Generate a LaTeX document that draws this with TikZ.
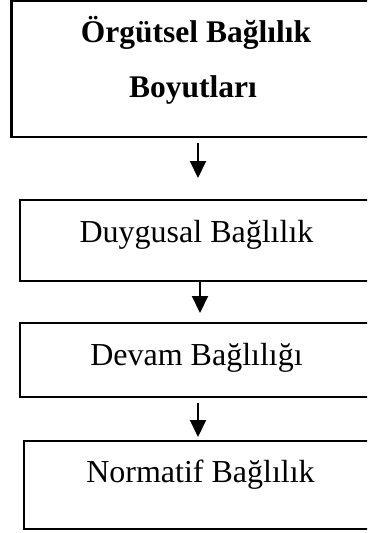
\documentclass[tikz,border=0pt]{standalone}
\usepackage{fontspec}
\setmainfont{Liberation Serif}
\usetikzlibrary{arrows.meta}
\begin{document}
\begin{tikzpicture}[x=1pt,y=-1pt,
  box/.style={draw=black, rectangle, line width=2pt, inner sep=0pt, outer sep=0pt},
  title/.style={anchor=base, inner sep=0pt, font=\fontsize{31.5}{36}\selectfont\bfseries},
  label/.style={anchor=base, inner sep=0pt, font=\fontsize{32}{36}\selectfont},
  flow/.style={line width=2pt, -{Triangle[width=16pt,length=17pt]}}]
  \useasboundingbox (0,0) rectangle (367,533);
  \clip (0,0) rectangle (367,533);

  % boxes
  \node[box, line width=2.5pt, minimum width=369pt, minimum height=136pt] (b1) at (196,69) {};
  \node[box, minimum width=353pt, minimum height=81pt] (b2) at (196.5,240.5) {};
  \node[box, minimum width=353pt, minimum height=74pt] (b3) at (196.5,360) {};
  \node[box, minimum width=352pt, minimum height=88pt] (b4) at (200,485) {};

  % texts
  \node[title] (t1a) at (196,42) {Örgütsel Bağlılık};
  \node[title] (t1b) at (193,97) {Boyutları};
  \node[label] (t2) at (196.5,242) {Duygusal Bağlılık};
  \node[label] (t3) at (196.5,365) {Devam Bağlılığı};
  \node[label] (t4) at (200.5,482) {Normatif Bağlılık};

  % connectors
  \draw[flow, shorten <=6pt, shorten >=22pt] ([xshift=2pt]b1.south) -- ([xshift=2pt]b1.south |- b2.north);
  \draw[flow, shorten >=10pt] ([xshift=3.5pt]b2.south) -- ([xshift=3.5pt]b2.south |- b3.north);
  \draw[flow, shorten <=6pt, shorten >=4pt] ([xshift=1.5pt]b3.south) -- ([xshift=1.5pt]b3.south |- b4.north);
\end{tikzpicture}
\end{document}
